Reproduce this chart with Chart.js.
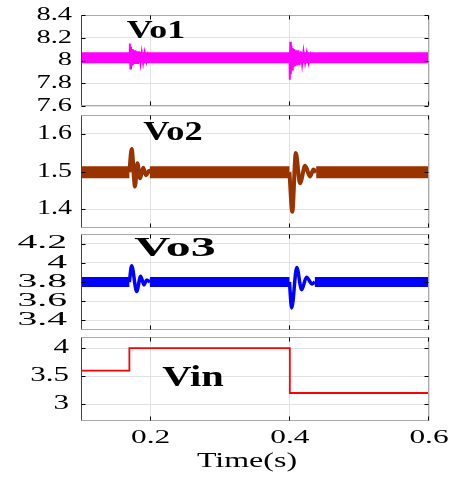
<!DOCTYPE html>
<html>
<head>
<meta charset="utf-8">
<script src="https://cdn.jsdelivr.net/npm/chart.js@4.4.0/dist/chart.umd.min.js"></script>
<style>
body{margin:0;background:#fff;width:454px;height:483px;overflow:hidden;position:relative}
canvas{position:absolute;left:0}
</style>
</head>
<body>
<canvas id="c1" width="454" height="107" style="top:7px"></canvas>
<canvas id="c2" width="454" height="129" style="top:107px"></canvas>
<canvas id="c3" width="454" height="112" style="top:226px"></canvas>
<canvas id="c4" width="454" height="154" style="top:329px"></canvas>
<script>
// shared time axis
var xTicks = [0.2, 0.4, 0.6];

// Vo1
var vo1Ticks = [7.6, 7.8, 8, 8.2, 8.4];
var vo1BandT = [0.1, 0.6];
var vo1BandV = [8.025, 8.025];
var vo1TrT = [0.1695,0.1702,0.1710,0.1718,0.1726,0.1735,0.1745,0.1756,0.1768,0.1780,0.1793,0.1807,0.1822,0.1838,0.1855,0.1873,0.1893,0.1915,0.1940,0.1965,0.1990,
              null,
              0.3995,0.4000,0.4007,0.4015,0.4023,0.4032,0.4042,0.4053,0.4065,0.4078,0.4092,0.4107,0.4123,0.4140,0.4158,0.4177,0.4197,0.4220,0.4245,0.4272,0.4300,0.4330];
var vo1TrV = [8.03,8.15,7.93,8.12,7.95,8.10,7.96,8.09,7.97,8.09,7.97,8.08,7.97,8.08,7.98,8.07,7.98,8.07,7.99,8.06,8.03,
              null,
              8.03,7.83,8.165,7.88,8.13,7.92,8.11,7.94,8.10,7.95,8.09,7.96,8.09,7.96,8.08,7.97,8.08,7.98,8.07,7.98,8.06,8.03];

// Vo2
var vo2Ticks = [1.4, 1.5, 1.6];
var vo2BandT = [0.1, 0.1695, 0.1695, 0.199, 0.3995, 0.3995, 0.438, 0.6];
var vo2BandV = [1.498, 1.498, null, 1.498, 1.498, null, 1.498, 1.498];
var vo2TrT = [0.1695,0.1728,0.1776,0.1810,0.1848,0.1893,0.1935,0.1980,0.2010, null,
              0.3995,0.4036,0.4086,0.4147,0.4220,0.4290,0.4340,0.4380];
var vo2TrV = [1.498,1.560,1.460,1.522,1.482,1.510,1.490,1.502,1.498, null,
              1.498,1.393,1.549,1.469,1.515,1.487,1.505,1.498];

// Vo3
var vo3Ticks = [3.4, 3.6, 3.8, 4, 4.2];
var vo3BandT = [0.1, 0.1695, 0.1695, 0.199, 0.3995, 0.3995, 0.436, 0.6];
var vo3BandV = [3.80, 3.80, null, 3.80, 3.80, null, 3.80, 3.80];
var vo3TrT = [0.1695,0.1728,0.1800,0.1857,0.1905,0.1944,0.1990, null,
              0.3995,0.4027,0.4100,0.4170,0.4240,0.4320,0.4360];
var vo3TrV = [3.80,3.97,3.70,3.86,3.77,3.82,3.80, null,
              3.80,3.53,3.95,3.72,3.85,3.78,3.80];

// Vin
var vinTicks = [3, 3.5, 4];
var vinT = [0.1, 0.1695, 0.1695, 0.4, 0.4, 0.6];
var vinV = [3.6, 3.6, 4.0, 4.0, 3.2, 3.2];

var SERIF = '"Liberation Serif", "Times New Roman", serif';

function pts(t, v) {
    var out = [];
    for (var i = 0; i < t.length; i++) {
        out.push({x: t[i] === null ? (t[i-1] || 0.1) : t[i], y: v[i]});
    }
    return out;
}

// text squeezed/stretched sideways like the picture
function drawText(ctx, text, x, y, font, sx, align) {
    ctx.save();
    ctx.font = font;
    ctx.fillStyle = '#000';
    ctx.textBaseline = 'middle';
    ctx.textAlign = align;
    ctx.translate(x, y);
    ctx.scale(sx, 1);
    ctx.fillText(text, 0, 0);
    ctx.restore();
}

function makePanel(id, top, o) {
    var framePlugin = {
        id: 'frame',
        afterDraw: function(chart) {
            var ctx = chart.ctx, a = chart.chartArea;
            var xs = chart.scales.x, ys = chart.scales.y;
            var L = Math.round(a.left) + 0.5, R = Math.round(a.right) - 0.5;
            var T = Math.round(a.top) + 0.5, B = Math.round(a.bottom) - 0.5;
            ctx.save();
            ctx.lineWidth = 1;
            ctx.strokeStyle = '#aaaaaa';
            ctx.beginPath();
            ctx.moveTo(L, T); ctx.lineTo(R, T); ctx.lineTo(R, B); ctx.lineTo(L, B);
            ctx.stroke();
            ctx.strokeStyle = '#444';
            ctx.beginPath();
            ctx.moveTo(L, T); ctx.lineTo(L, B);
            ctx.stroke();
            // inward tick marks
            ctx.strokeStyle = '#000';
            ctx.beginPath();
            o.yTicks.forEach(function(v) {
                var py = Math.round(ys.getPixelForValue(v)) + 0.5;
                ctx.moveTo(L, py); ctx.lineTo(L + 4, py);
                ctx.moveTo(R, py); ctx.lineTo(R - 4, py);
            });
            xTicks.forEach(function(v) {
                var px = Math.round(xs.getPixelForValue(v)) - 0.5;
                ctx.moveTo(px, T); ctx.lineTo(px, T + 4);
                ctx.moveTo(px, B); ctx.lineTo(px, B - 4);
            });
            ctx.stroke();
            ctx.restore();

            o.yTicks.forEach(function(v) {
                drawText(ctx, String(v), o.labelRight, ys.getPixelForValue(v),
                    o.labelSize + 'px ' + SERIF, o.labelSx, 'right');
            });
            drawText(ctx, o.title, o.titleX, o.titleY - top,
                'bold ' + o.titleSize + 'px ' + SERIF, o.titleSx, 'center');
            if (o.showX) {
                xTicks.forEach(function(v) {
                    drawText(ctx, String(v), xs.getPixelForValue(v), 438 - top,
                        '19px ' + SERIF, 1.65, 'center');
                });
                drawText(ctx, 'Time(s)', 247, 462 - top, '20px ' + SERIF, 1.6, 'center');
            }
        }
    };

    return new Chart(document.getElementById(id).getContext('2d'), {
        type: 'scatter',
        data: {datasets: o.datasets},
        options: {
            responsive: false,
            animation: false,
            devicePixelRatio: 1,
            layout: {padding: {left: 0, right: 25, top: 8, bottom: o.padBottom}},
            plugins: {legend: {display: false}, tooltip: {enabled: false}},
            scales: {
                x: {
                    type: 'linear', min: 0.1, max: 0.6,
                    afterBuildTicks: function(s) { s.ticks = xTicks.map(function(v) { return {value: v}; }); },
                    afterFit: function(s) { s.height = 0; },
                    ticks: {display: false},
                    grid: {color: '#e2e2e2', drawTicks: false},
                    border: {display: false}
                },
                y: {
                    min: o.yMin, max: o.yMax,
                    afterBuildTicks: function(s) { s.ticks = o.yTicks.map(function(v) { return {value: v}; }); },
                    afterFit: function(s) { s.width = 81; },
                    ticks: {display: false},
                    grid: {color: '#e2e2e2', drawTicks: false},
                    border: {display: false}
                }
            }
        },
        plugins: [framePlugin]
    });
}

function band(t, v, color, w) {
    return {data: pts(t, v), showLine: true, borderColor: color, borderWidth: w,
            pointRadius: 0, spanGaps: false, clip: 0, borderCapStyle: 'butt'};
}
function trace(t, v, color, w, smooth) {
    return {data: pts(t, v), showLine: true, borderColor: color, borderWidth: w,
            pointRadius: 0, spanGaps: false, clip: 0,
            cubicInterpolationMode: smooth ? 'monotone' : 'default'};
}

makePanel('c1', 7, {
    yMin: 7.6, yMax: 8.4, yTicks: vo1Ticks, padBottom: 8,
    labelRight: 72, labelSize: 19, labelSx: 1.5,
    title: 'Vo1', titleX: 156, titleY: 31, titleSize: 26, titleSx: 1.38,
    datasets: [band(vo1BandT, vo1BandV, '#ff00ff', 11), trace(vo1TrT, vo1TrV, '#ff00ff', 2, false)]
});
makePanel('c2', 107, {
    yMin: 1.35, yMax: 1.65, yTicks: vo2Ticks, padBottom: 8,
    labelRight: 72, labelSize: 20, labelSx: 1.4,
    title: 'Vo2', titleX: 173, titleY: 133, titleSize: 28, titleSx: 1.3,
    datasets: [band(vo2BandT, vo2BandV, '#993300', 12), trace(vo2TrT, vo2TrV, '#993300', 4, true)]
});
makePanel('c3', 226, {
    yMin: 3.3, yMax: 4.3, yTicks: vo3Ticks, padBottom: 8,
    labelRight: 67, labelSize: 18, labelSx: 2.2,
    title: 'Vo3', titleX: 175, titleY: 249, titleSize: 27, titleSx: 1.85,
    datasets: [band(vo3BandT, vo3BandV, '#0000ff', 10), trace(vo3TrT, vo3TrV, '#0000ff', 3.5, true)]
});
makePanel('c4', 329, {
    yMin: 2.7, yMax: 4.2, yTicks: vinTicks, padBottom: 62, showX: true,
    labelRight: 69, labelSize: 20, labelSx: 1.55,
    title: 'Vin', titleX: 193, titleY: 378, titleSize: 30, titleSx: 1.35,
    datasets: [trace(vinT, vinV, '#ff0000', 1.8, false)]
});
</script>
</body>
</html>
